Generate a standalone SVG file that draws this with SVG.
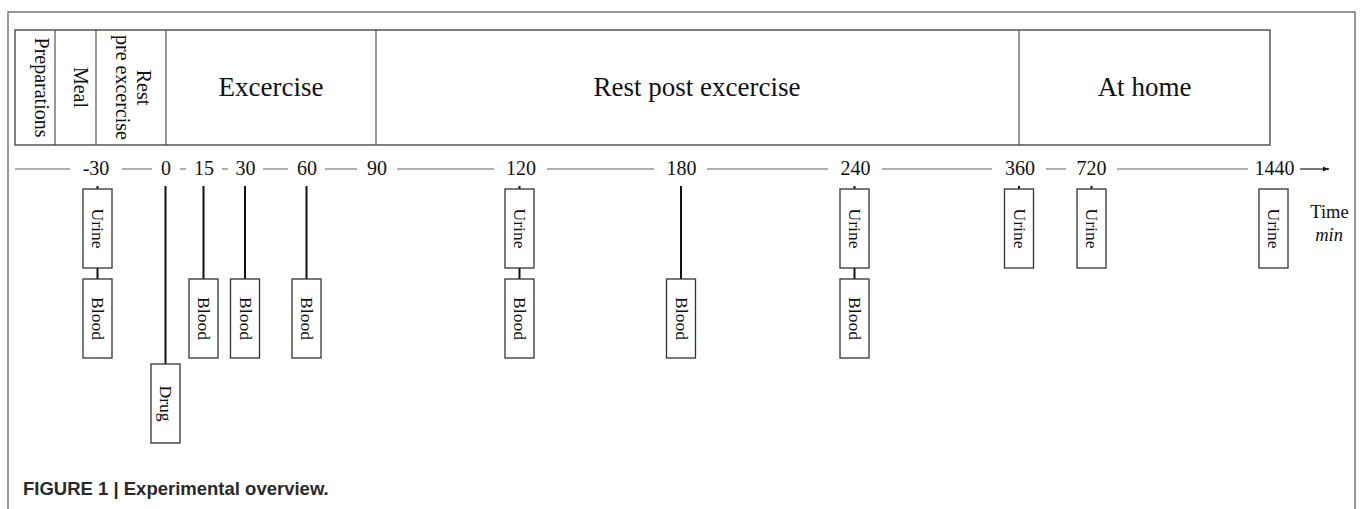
<svg xmlns="http://www.w3.org/2000/svg" width="1363" height="509" viewBox="0 0 1363 509">
<style>
.serif{font-family:"Liberation Serif","Times New Roman",serif;fill:#111}
.phase{font-size:27px}
.vlab{font-size:20px}
.tick{font-size:20px}
.box{fill:#fff;stroke:#333;stroke-width:1.3}
.btxt{font-size:17.5px}
.axis{stroke:#999;stroke-width:1.3;fill:none}
.stem{stroke:#111;stroke-width:2;fill:none}
</style>
<defs>
<marker id="arr" viewBox="0 0 10 10" refX="9" refY="5" markerWidth="7" markerHeight="7" orient="auto" markerUnits="userSpaceOnUse">
<path d="M0,1.5 L10,5 L0,8.5 Z" fill="#111"/>
</marker>
</defs>
<rect width="1363" height="509" fill="#fff"/>
<path d="M8,509 V12 H1355 V509" fill="none" stroke="#777" stroke-width="1.5"/>

<g id="phases">
<rect x="15" y="30" width="1255" height="115" fill="#fff" stroke="#555" stroke-width="1.5"/>
<g stroke="#444" stroke-width="1.1">
<line x1="55" y1="30" x2="55" y2="145"/>
<line x1="96" y1="30" x2="96" y2="145"/>
<line x1="166" y1="30" x2="166" y2="145"/>
<line x1="376" y1="30" x2="376" y2="145"/>
<line x1="1019" y1="30" x2="1019" y2="145"/>
</g>
</g>
<g id="phase-preparations"><text class="serif vlab" text-anchor="middle" transform="translate(34.5,87.5) rotate(90)">Preparations</text></g>
<g id="phase-meal"><text class="serif vlab" text-anchor="middle" transform="translate(74,87.5) rotate(90)">Meal</text></g>
<g id="phase-rest-pre"><text class="serif vlab" text-anchor="middle" transform="translate(137,87.5) rotate(90)">Rest</text><text class="serif vlab" text-anchor="middle" transform="translate(116,87.5) rotate(90)">pre excercise</text></g>
<g id="phase-exercise"><text class="serif phase" x="271" y="96" text-anchor="middle">Excercise</text></g>
<g id="phase-rest-post"><text class="serif phase" x="697" y="96" text-anchor="middle">Rest post excercise</text></g>
<g id="phase-home"><text class="serif phase" x="1144.5" y="96" text-anchor="middle">At home</text></g>

<g id="connectors">
<path class="axis" d="M15,169 H70 M122,169 H152 M180,169 H186 M222,169 H228 M263,169 H288 M325,169 H357 M397,169 H494 M547,169 H654 M707,169 H828 M882,169 H992 M1046,169 H1066 M1117,169 H1248"/>
<line x1="1300" y1="169" x2="1329" y2="169" stroke="#333" stroke-width="1.3" marker-end="url(#arr)"/>
<g class="stem">
<line x1="97.5" y1="186" x2="97.5" y2="189"/>
<line x1="97.5" y1="268" x2="97.5" y2="279"/>
<line x1="165.5" y1="186" x2="165.5" y2="364"/>
<line x1="203.5" y1="186" x2="203.5" y2="279"/>
<line x1="245" y1="186" x2="245" y2="279"/>
<line x1="306.5" y1="186" x2="306.5" y2="279"/>
<line x1="519.5" y1="186" x2="519.5" y2="189"/>
<line x1="519.5" y1="268" x2="519.5" y2="279"/>
<line x1="681" y1="186" x2="681" y2="279"/>
<line x1="854.5" y1="186" x2="854.5" y2="189"/>
<line x1="854.5" y1="268" x2="854.5" y2="279"/>
<line x1="1019" y1="186" x2="1019" y2="189"/>
<line x1="1091.5" y1="186" x2="1091.5" y2="189"/>
</g>
</g>

<g id="ticks" class="serif tick" text-anchor="middle">
<text x="96" y="175">-30</text>
<text x="166" y="175">0</text>
<text x="204" y="175">15</text>
<text x="245.5" y="175">30</text>
<text x="307" y="175">60</text>
<text x="377" y="175">90</text>
<text x="521" y="175">120</text>
<text x="681.5" y="175">180</text>
<text x="855.5" y="175">240</text>
<text x="1020" y="175">360</text>
<text x="1091.5" y="175">720</text>
<text x="1274.5" y="175">1440</text>
</g>

<g id="urine-m30"><rect class="box" x="83" y="189" width="29" height="79"/><text class="serif btxt" text-anchor="middle" transform="translate(92,228.5) rotate(90)">Urine</text></g>
<g id="blood-m30"><rect class="box" x="83" y="279" width="29" height="79"/><text class="serif btxt" text-anchor="middle" transform="translate(92,318.5) rotate(90)">Blood</text></g>
<g id="drug-0"><rect class="box" x="151" y="364" width="29" height="79"/><text class="serif btxt" text-anchor="middle" transform="translate(160,403.5) rotate(90)">Drug</text></g>
<g id="blood-15"><rect class="box" x="189" y="279" width="29" height="79"/><text class="serif btxt" text-anchor="middle" transform="translate(198,318.5) rotate(90)">Blood</text></g>
<g id="blood-30"><rect class="box" x="230.5" y="279" width="29" height="79"/><text class="serif btxt" text-anchor="middle" transform="translate(239.5,318.5) rotate(90)">Blood</text></g>
<g id="blood-60"><rect class="box" x="292" y="279" width="29" height="79"/><text class="serif btxt" text-anchor="middle" transform="translate(301,318.5) rotate(90)">Blood</text></g>
<g id="urine-120"><rect class="box" x="505" y="189" width="29" height="79"/><text class="serif btxt" text-anchor="middle" transform="translate(514,228.5) rotate(90)">Urine</text></g>
<g id="blood-120"><rect class="box" x="505" y="279" width="29" height="79"/><text class="serif btxt" text-anchor="middle" transform="translate(514,318.5) rotate(90)">Blood</text></g>
<g id="blood-180"><rect class="box" x="666.5" y="279" width="29" height="79"/><text class="serif btxt" text-anchor="middle" transform="translate(675.5,318.5) rotate(90)">Blood</text></g>
<g id="urine-240"><rect class="box" x="840" y="189" width="29" height="79"/><text class="serif btxt" text-anchor="middle" transform="translate(849,228.5) rotate(90)">Urine</text></g>
<g id="blood-240"><rect class="box" x="840" y="279" width="29" height="79"/><text class="serif btxt" text-anchor="middle" transform="translate(849,318.5) rotate(90)">Blood</text></g>
<g id="urine-360"><rect class="box" x="1004.5" y="189" width="29" height="79"/><text class="serif btxt" text-anchor="middle" transform="translate(1013.5,228.5) rotate(90)">Urine</text></g>
<g id="urine-720"><rect class="box" x="1077" y="189" width="29" height="79"/><text class="serif btxt" text-anchor="middle" transform="translate(1086,228.5) rotate(90)">Urine</text></g>
<g id="urine-1440"><rect class="box" x="1259" y="189" width="29" height="79"/><text class="serif btxt" text-anchor="middle" transform="translate(1268,228.5) rotate(90)">Urine</text></g>

<g id="axis-label">
<text class="serif" x="1329.5" y="218" font-size="18.5" text-anchor="middle">Time</text>
<text class="serif" x="1329" y="241" font-size="18.5" font-style="italic" text-anchor="middle">min</text>
</g>

<text x="23" y="495" font-family="Liberation Sans, Arial, sans-serif" font-weight="bold" font-size="18.5" fill="#2a2a2a">FIGURE 1 | Experimental overview.</text>
</svg>
